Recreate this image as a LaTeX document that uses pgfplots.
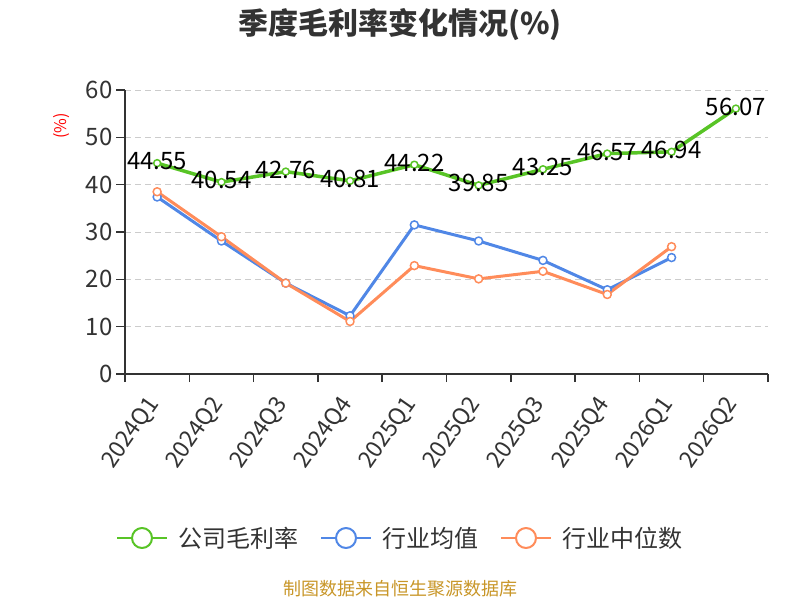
\documentclass[border=0pt]{standalone}
\usepackage{fontspec}
\setmainfont{Noto Sans CJK SC}
\usepackage{pgfplots}
\pgfplotsset{compat=1.18}
\definecolor{cgreen}{RGB}{88,196,38}
\definecolor{cblue}{RGB}{80,135,230}
\definecolor{corange}{RGB}{255,140,90}
\definecolor{ctext}{RGB}{51,51,51}
\definecolor{cgrid}{RGB}{204,204,204}
\definecolor{cfoot}{RGB}{200,150,40}
\pgfplotstableread{
x y lab
0 44.55 44.55
1 40.54 40.54
2 42.76 42.76
3 40.81 40.81
4 44.22 44.22
5 39.85 39.85
6 43.25 43.25
7 46.57 46.57
8 46.94 46.94
9 56.07 56.07
}\gross
\pgfplotstableread{
x y
0 37.4
1 28.1
2 19.2
3 12.3
4 31.5
5 28.1
6 24.0
7 17.8
8 24.6
}\avg
\pgfplotstableread{
x y
0 38.5
1 29.0
2 19.2
3 11.1
4 22.9
5 20.1
6 21.7
7 16.8
8 26.9
}\med
\begin{document}
\begin{tikzpicture}[x=1pt,y=1pt]
\path[use as bounding box] (0,0) rectangle (800,600);
\node[font=\fontsize{30}{33}\selectfont\bfseries, text=ctext] at (400,575) {季度毛利率变化情况(\%)};
\node[font=\fontsize{16}{18}\selectfont, text=red, rotate=90] at (62,474) {(\%)};
\node[font=\fontsize{18}{20}\selectfont, text=cfoot] at (400,11) {制图数据来自恒生聚源数据库};
\begin{axis}[
  at={(125pt,226pt)}, anchor=south west,
  scale only axis, width=643pt, height=284pt,
  xmin=-0.5, xmax=9.5, ymin=0, ymax=60,
  axis x line*=bottom, axis y line*=left,
  axis line style={ctext, line width=1.5pt},
  every axis plot/.append style={line join=round},
  xtick={0,...,9},
  xticklabels={2024Q1,2024Q2,2024Q3,2024Q4,2025Q1,2025Q2,2025Q3,2025Q4,2026Q1,2026Q2},
  minor xtick={-0.5,0.5,...,9.5},
  major x tick style={draw=none},
  minor tick length=8pt,
  minor x tick style={ctext, line width=1.5pt},
  ytick={0,10,...,60},
  major tick length=9pt,
  y tick style={ctext, line width=1.5pt},
  tick align=outside,
  ymajorgrids,
  grid style={cgrid, line width=1pt, dash pattern=on 6pt off 4pt},
  /pgf/number format/assume math mode=true,
  tick label style={font=\fontsize{24}{26}\selectfont, text=ctext},
  xticklabel style={font=\fontsize{23}{25}\selectfont, yshift=-14pt, xshift=-1pt, rotate=55, anchor=east},
  legend columns=3,
  legend style={at={(0.4277,-0.5775)}, anchor=center, draw=none, fill=none,
    font=\fontsize{24}{26}\selectfont, text=ctext,
    /tikz/every odd column/.append style={column sep=8pt},
    /tikz/every even column/.append style={column sep=20pt}},
  legend image code/.code={
    \draw[line width=2pt] (0pt,0pt) -- (50pt,0pt);
    \draw[line width=2pt, fill=white] (25pt,0pt) circle (10pt);
  },
  clip=false,
]
\addplot[cgreen, line width=3.5pt, mark=*, mark size=3.5pt,
  mark options={fill=white, draw=cgreen, line width=1.5pt},
  point meta=explicit symbolic,
  nodes near coords,
  nodes near coords style={anchor=center, yshift=2pt, font=\fontsize{24}{26}\selectfont, text=black}]
  table[x=x, y=y, meta=lab]{\gross};
\addlegendentry{公司毛利率}
\addplot[cblue, line width=3pt, mark=*, mark size=4pt,
  mark options={fill=white, draw=cblue, line width=1.5pt}]
  table[x=x, y=y]{\avg};
\addlegendentry{行业均值}
\addplot[corange, line width=3pt, mark=*, mark size=4pt,
  mark options={fill=white, draw=corange, line width=1.5pt}]
  table[x=x, y=y]{\med};
\addlegendentry{行业中位数}
\end{axis}
\end{tikzpicture}
\end{document}
